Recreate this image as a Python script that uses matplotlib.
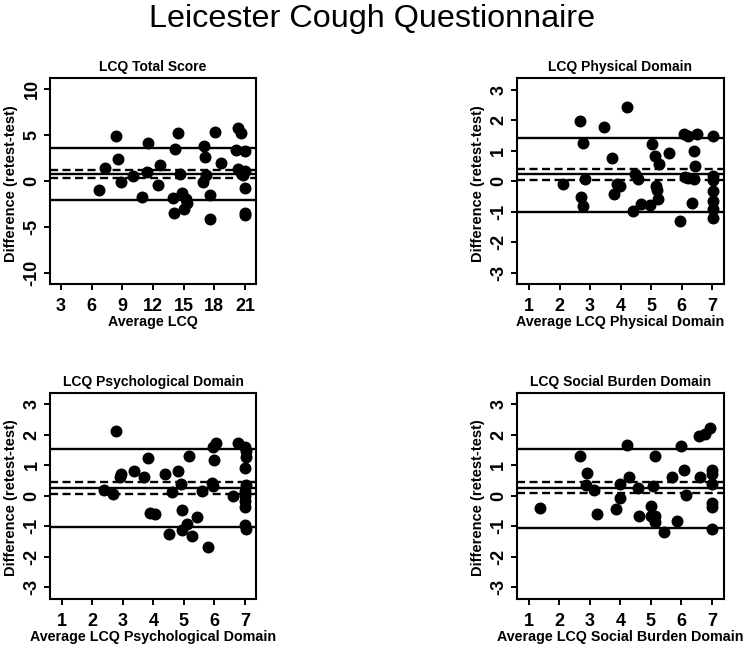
import matplotlib
matplotlib.use("Agg")
import matplotlib.pyplot as plt
import numpy as np

plt.rcParams['font.family'] = ['Liberation Sans', 'DejaVu Sans']

# ---------------- data ----------------
main_title = "Leicester Cough Questionnaire"
ylabel_text = "Difference (retest-test)"

total_title = "LCQ Total Score"
total_xlabel = "Average LCQ"
total_avg = [6.75, 7.3, 8.38, 8.61, 8.84, 10.07, 10.9, 11.54, 11.4, 12.5, 12.68,
             13.98, 14.08, 14.14, 14.47, 14.63, 14.8, 15.2, 15.28, 15.05,
             16.9, 17.0, 17.07, 17.17, 17.56, 17.56, 18.05, 18.7,
             20.17, 20.33, 20.66, 20.99, 20.33, 20.66, 21.0, 20.82, 21.0, 20.99, 21.05]
total_diff = [-0.98, 1.45, 4.89, 2.43, -0.1, 0.55, -1.74, 4.17, 0.98, -0.47, 1.75,
              -1.85, -3.44, 3.52, 5.26, 0.73, -1.34, -1.99, -2.42, -3.0,
              -0.05, 3.8, 2.65, 0.62, -1.55, -4.09, 5.33, 2.0,
              3.37, 5.8, 5.26, 3.26, 1.27, 0.91, 1.09, 0.62, -0.72, -3.51, -3.73]
total_lines = [3.58, 1.22, 0.82, 0.35, -2.03]   # upper LoA, CI hi, mean, CI lo, lower LoA
total_xticks = [3, 6, 9, 12, 15, 18, 21]
total_yticks = [-10, -5, 0, 5, 10]

phys_title = "LCQ Physical Domain"
phys_xlabel = "Average LCQ Physical Domain"
phys_avg = [2.13, 2.67, 2.69, 2.78, 2.78, 2.84, 3.44, 3.71, 3.79, 3.87, 3.98, 4.2,
            4.42, 4.48, 4.58, 4.66, 4.97, 5.02, 5.13, 5.16, 5.19, 5.21, 5.27, 5.57,
            5.95, 6.06, 6.19, 6.11, 6.2, 6.33, 6.39, 6.41, 6.44, 6.5,
            7.02, 7.02, 7.02, 7.02, 7.02, 7.02, 7.02]
phys_diff = [-0.08, 1.98, -0.51, 1.25, -0.81, 0.08, 1.77, 0.76, -0.43, -0.08, -0.16, 2.44,
             -0.98, 0.22, 0.08, -0.76, -0.79, 1.22, 0.84, -0.16, -0.29, -0.6, 0.57, 0.92,
             -1.3, 1.55, 1.49, 0.14, 0.11, -0.7, 0.08, 0.98, 0.49, 1.55,
             1.49, 0.16, 0.03, -0.33, -0.65, -0.9, -1.22]
phys_lines = [1.41, 0.40, 0.22, 0.05, -1.0]

psych_title = "LCQ Psychological Domain"
psych_xlabel = "Average LCQ Psychological Domain"
psych_avg = [2.38, 2.67, 2.78, 2.91, 2.93, 3.38, 3.7, 3.84, 3.89, 4.05, 4.38, 4.52,
             4.6, 4.8, 4.9, 4.93, 4.93, 5.09, 5.17, 5.25, 5.42, 5.58, 5.8, 5.91,
             5.96, 5.99, 6.05, 5.96, 6.62, 6.76, 7.0, 7.03, 7.03, 7.0, 7.03, 7.0,
             7.0, 7.0, 7.0, 7.0, 7.03]
psych_diff = [0.2, 0.07, 2.12, 0.63, 0.7, 0.81, 0.63, 1.24, -0.57, -0.61, 0.7, -1.26,
              0.12, 0.83, 0.39, -0.46, -1.11, -0.92, 1.29, -1.33, -0.7, 0.15, -1.66, 0.43,
              1.61, 1.16, 1.72, 0.32, -0.02, 1.72, 1.61, 1.48, 1.26, 0.92, 0.34, 0.17,
              0.01, -0.17, -0.35, -0.97, -1.08]
psych_lines = [1.54, 0.47, 0.26, 0.07, -1.03]

social_title = "LCQ Social Burden Domain"
social_xlabel = "Average LCQ Social Burden Domain"
social_avg = [1.38, 2.69, 2.91, 2.87, 3.13, 3.24, 3.85, 3.98, 3.98, 4.22, 4.28, 4.58,
              4.62, 4.99, 4.99, 5.08, 5.13, 5.13, 5.15, 5.44, 5.7, 5.84, 6.0, 6.08,
              6.15, 6.61, 6.58, 6.77, 6.93, 7.01, 7.01, 7.01, 7.01, 7.01, 7.01]
social_diff = [-0.4, 1.29, 0.76, 0.36, 0.19, -0.58, -0.44, 0.38, -0.08, 1.67, 0.62, 0.25,
               -0.65, -0.33, -0.65, 0.33, -0.65, -0.87, 1.31, -1.2, 0.62, -0.84, 1.64, 0.84,
               0.03, 0.62, 1.96, 2.02, 2.21, 0.84, 0.73, 0.4, -0.25, -0.38, -1.09]
social_lines = [1.53, 0.47, 0.27, 0.09, -1.04]

domain_xticks = [1, 2, 3, 4, 5, 6, 7]
domain_yticks = [-3, -2, -1, 0, 1, 2, 3]

# ---------------- layout ----------------
W, H = 750, 648
fig = plt.figure(figsize=(W / 100, H / 100), dpi=100)

def px_axes(l, t, r, b):
    return fig.add_axes([l / W, 1 - b / H, (r - l) / W, (b - t) / H])

panels = [
    (px_axes(50, 78.3, 256, 284), total_avg, total_diff, total_lines, total_title,
     total_xlabel, total_xticks, total_yticks, (1.92, 22.08), (-11.2, 11.2)),
    (px_axes(516.7, 78.3, 724, 284), phys_avg, phys_diff, phys_lines, phys_title,
     phys_xlabel, domain_xticks, domain_yticks, (0.6, 7.38), (-3.37, 3.37)),
    (px_axes(50, 392.7, 256, 599), psych_avg, psych_diff, psych_lines, psych_title,
     psych_xlabel, domain_xticks, domain_yticks, (0.62, 7.36), (-3.38, 3.38)),
    (px_axes(516.7, 392.7, 723.5, 599), social_avg, social_diff, social_lines, social_title,
     social_xlabel, domain_xticks, domain_yticks, (0.6, 7.38), (-3.38, 3.38)),
]

for ax, xs, ys, lines, title, xlabel, xt, yt, xl, yl in panels:
    ax.plot(xs, ys, 'o', color='black', ms=7.6, mec='black', zorder=3)
    for i, v in enumerate(lines):
        if i in (1, 3):
            ax.axhline(v, color='black', lw=1.7, linestyle=(0, (3.4, 1.9)), zorder=2)
        else:
            ax.axhline(v, color='black', lw=1.7, zorder=2)
    ax.set_xlim(*xl)
    ax.set_ylim(*yl)
    ax.set_xticks(xt)
    ax.set_yticks(yt)
    ax.set_yticklabels([str(v) for v in yt], rotation=90, va='center')
    ax.tick_params(axis='both', direction='out', length=4.3, width=1.4,
                   labelsize=13, color='black')
    ax.tick_params(axis='x', pad=6.0)
    ax.tick_params(axis='y', pad=2.5)
    for lab in ax.get_xticklabels() + ax.get_yticklabels():
        lab.set_fontweight('bold')
    for s in ax.spines.values():
        s.set_linewidth(1.5)
    ax.set_title(title, fontsize=10, fontweight='bold', pad=5)
    ax.set_xlabel(xlabel, fontsize=10.3, fontweight='bold', labelpad=0)
    ax.set_ylabel(ylabel_text, fontsize=10.5, fontweight='bold')
    ax.yaxis.set_label_coords(-0.153, 0.49)

fig.text(372 / W, 1 - 26.7 / H, main_title, fontsize=23.3, ha='center', va='baseline')

fig.savefig("out.png", dpi=100, facecolor='white')
